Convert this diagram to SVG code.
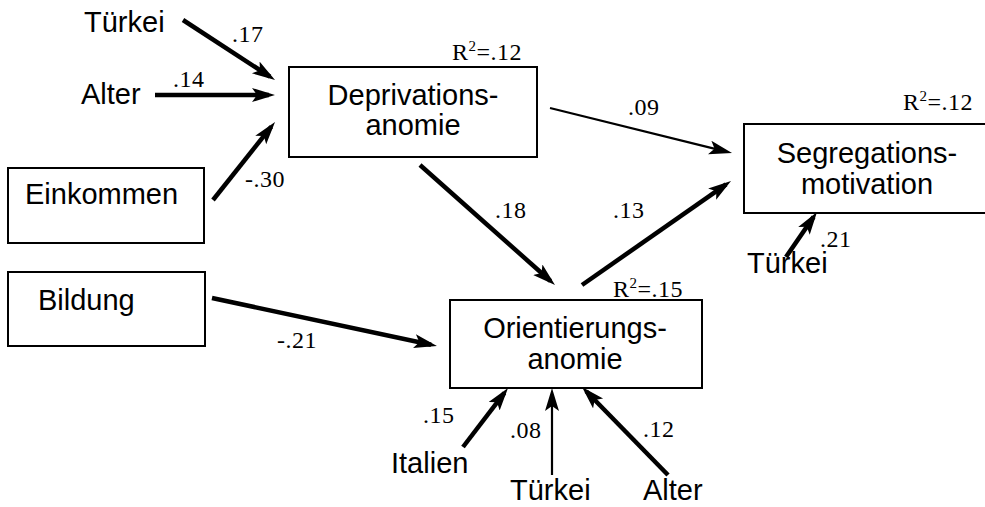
<svg xmlns="http://www.w3.org/2000/svg" width="985" height="507" viewBox="0 0 985 507">
<defs>
<style>
.box{fill:#fff;stroke:#000;stroke-width:2}
.lbl{font-family:"Liberation Sans",Arial,sans-serif;font-size:29px;fill:#000}
.num{font-family:"Liberation Serif","Times New Roman",serif;font-size:24px;letter-spacing:0.5px;fill:#000}
.thick{stroke:#000;stroke-width:4.5;fill:none;marker-end:url(#ah)}
.thin{stroke:#000;stroke-width:2.2;fill:none;marker-end:url(#ah)}
</style>
<marker id="ah" markerUnits="userSpaceOnUse" markerWidth="24" markerHeight="16" refX="17" refY="7" orient="auto">
<path d="M0,0 L23,7 L0,14 L5,7 Z" fill="#000"/>
</marker>
</defs>
<rect width="985" height="507" fill="#fff"/>

<g id="connectors">
<line class="thick" x1="183" y1="20" x2="270" y2="76.7"/>
<line class="thick" x1="155" y1="95" x2="269" y2="95"/>
<line class="thick" x1="213" y1="200" x2="271.3" y2="126.7"/>
<line class="thin" x1="550" y1="108" x2="726.2" y2="151.6"/>
<line class="thick" x1="420" y1="165" x2="550.5" y2="281"/>
<line class="thick" x1="582" y1="285" x2="726.1" y2="184.4"/>
<line class="thick" x1="786" y1="257" x2="813.6" y2="216.9"/>
<line class="thick" x1="212" y1="298" x2="431.1" y2="344.7"/>
<line class="thick" x1="463" y1="447" x2="504.4" y2="392.8"/>
<line class="thin" x1="552" y1="475" x2="552" y2="394"/>
<line class="thick" x1="668" y1="475" x2="586.2" y2="391.3"/>
<text class="num" x="232" y="42">.17</text>
<text class="num" x="173" y="87">.14</text>
<text class="num" x="245" y="187">-.30</text>
<text class="num" x="628" y="115">.09</text>
<text class="num" x="495" y="218">.18</text>
<text class="num" x="613" y="218">.13</text>
<text class="num" x="820" y="247">.21</text>
<text class="num" x="277" y="348">-.21</text>
<text class="num" x="423" y="423">.15</text>
<text class="num" x="510" y="438">.08</text>
<text class="num" x="643" y="437">.12</text>
</g>

<g id="tuerkei1"><text class="lbl" x="84" y="32">Türkei</text></g>
<g id="alter1"><text class="lbl" x="81" y="104">Alter</text></g>
<g id="einkommen">
<rect class="box" x="8" y="168" width="196" height="75"/>
<text class="lbl" x="25" y="204">Einkommen</text>
</g>
<g id="bildung">
<rect class="box" x="8" y="272" width="197" height="74"/>
<text class="lbl" x="38" y="310">Bildung</text>
</g>
<g id="deprivation">
<rect class="box" x="289" y="67" width="248" height="90"/>
<text class="lbl" x="413" y="105" text-anchor="middle">Deprivations-</text>
<text class="lbl" x="413" y="135" text-anchor="middle">anomie</text>
<text class="num" x="452" y="60">R<tspan font-size="15" dy="-9">2</tspan><tspan dy="9">=.12</tspan></text>
</g>
<g id="segregation">
<rect class="box" x="744" y="124" width="250" height="89"/>
<text class="lbl" x="867" y="163" text-anchor="middle">Segregations-</text>
<text class="lbl" x="867" y="194" text-anchor="middle">motivation</text>
<text class="num" x="903" y="110">R<tspan font-size="15" dy="-9">2</tspan><tspan dy="9">=.12</tspan></text>
</g>
<g id="tuerkei2"><text class="lbl" x="747" y="273">Türkei</text></g>
<g id="orientierung">
<rect class="box" x="450" y="300" width="252" height="88"/>
<text class="lbl" x="575" y="338" text-anchor="middle">Orientierungs-</text>
<text class="lbl" x="575" y="369" text-anchor="middle">anomie</text>
<text class="num" x="613" y="297">R<tspan font-size="15" dy="-9">2</tspan><tspan dy="9">=.15</tspan></text>
</g>
<g id="italien"><text class="lbl" x="391" y="473">Italien</text></g>
<g id="tuerkei3"><text class="lbl" x="510" y="500">Türkei</text></g>
<g id="alter2"><text class="lbl" x="643" y="500">Alter</text></g>
</svg>
